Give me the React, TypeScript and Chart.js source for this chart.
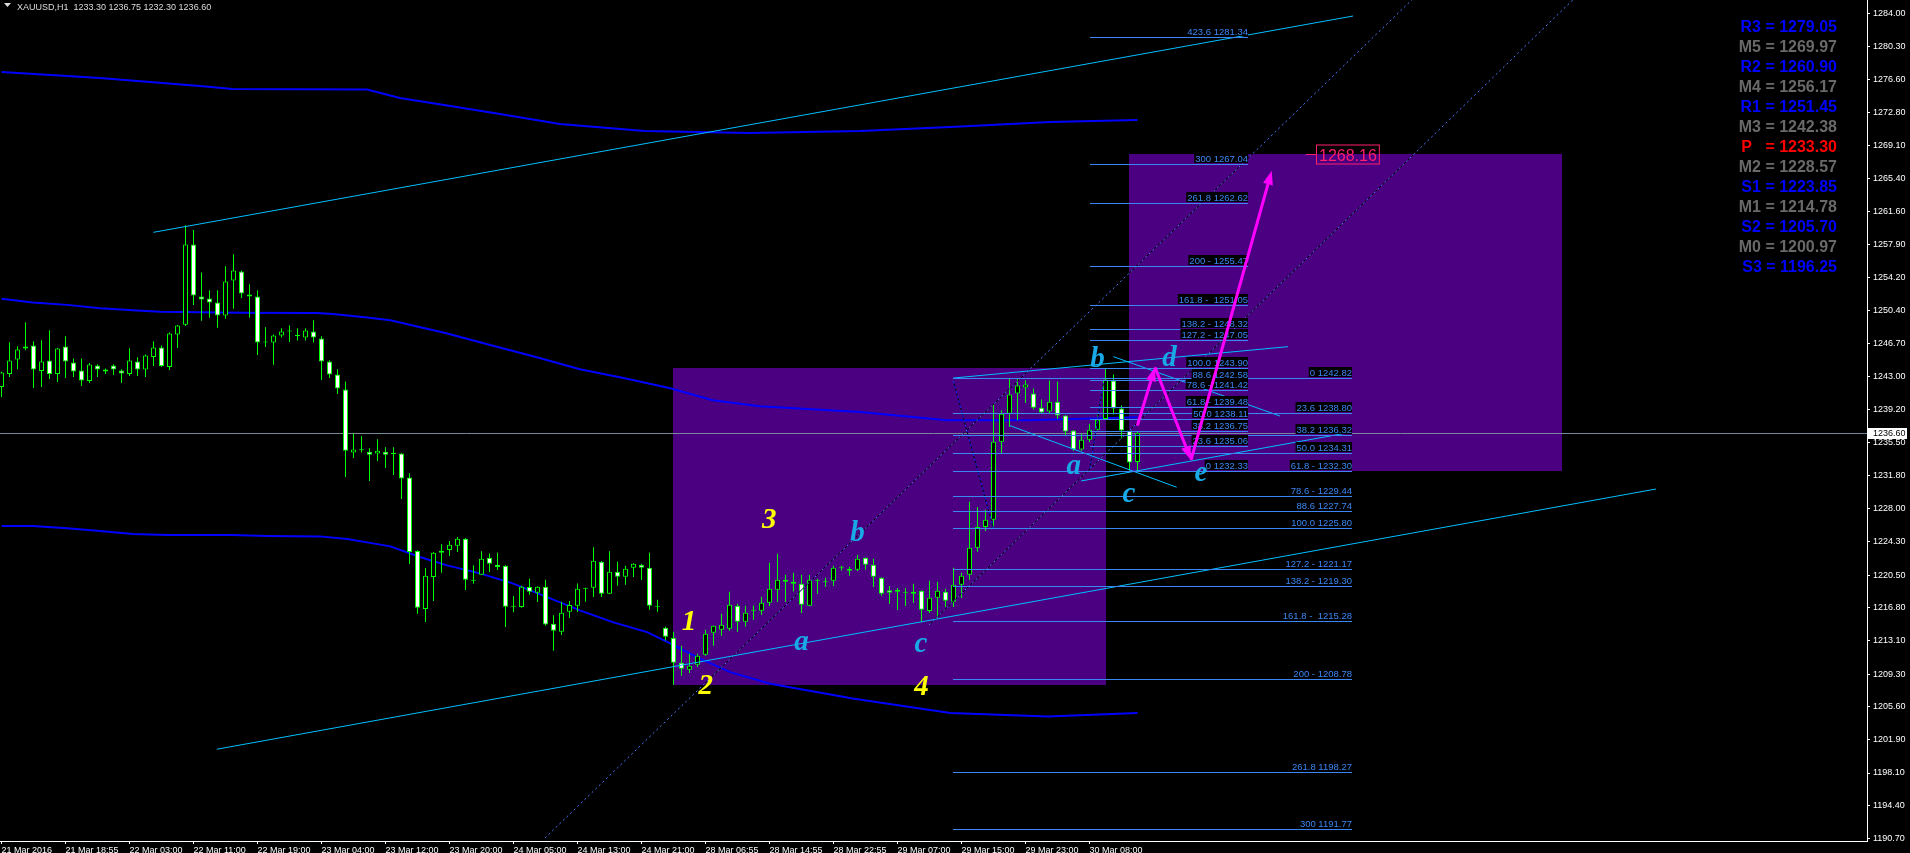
import React, { useEffect, useRef } from 'react';
import { Chart, registerables } from 'chart.js';

Chart.register(...registerables);

// ---------- candles (H1 XAUUSD) ----------
const candleOpen = [1241.79,1243.27,1244.89,1246.36,1246.48,1243.61,1244.78,1243.27,1246.36,1244.55,1243.64,1242.47,1244.21,1243.76,1244.21,1243.64,1243.27,1244.66,1243.76,1245.19,1246.25,1244.06,1247.72,1248.82,1257.91,1252.03,1251.80,1251.35,1249.87,1253.84,1254.86,1252.25,1252.03,1246.82,1246.82,1247.61,1248.06,1247.57,1247.38,1248.06,1247.27,1244.66,1243.19,1241.49,1234.36,1234.62,1234.47,1234.25,1234.47,1234.21,1234.25,1231.53,1223.23,1216.66,1220.28,1223.04,1223.34,1223.83,1224.62,1219.87,1220.55,1222.47,1221.68,1221.57,1216.92,1216.88,1219.15,1218.51,1219.19,1214.99,1214.09,1216.36,1217.04,1218.96,1219.07,1222.02,1218.39,1220.89,1220.32,1221.34,1221.68,1221.34,1216.92,1214.54,1213.41,1210.58,1209.79,1210.35,1211.49,1213.98,1214.32,1214.43,1217.04,1215.22,1216.47,1216.47,1217.37,1218.84,1219.98,1219.75,1219.52,1217.03,1219.86,1219.75,1219.86,1221.33,1221.22,1221.11,1222.47,1221.67,1220.20,1218.77,1218.84,1218.50,1218.62,1218.73,1216.43,1217.94,1218.62,1217.48,1219.41,1220.54,1223.60,1225.94,1226.77,1235.60,1238.77,1241.04,1241.72,1241.04,1239.45,1239.00,1240.13,1238.55,1236.85,1234.70,1235.83,1236.96,1238.17,1242.51,1239.34,1236.85,1233.30];
const candleHigh = [1243.50,1246.85,1246.40,1249.12,1246.97,1247.08,1248.21,1246.20,1247.53,1245.00,1245.00,1244.51,1244.36,1243.87,1244.36,1243.80,1246.17,1245.15,1245.46,1246.97,1246.48,1247.95,1248.80,1260.10,1259.54,1254.74,1252.74,1252.74,1255.46,1256.82,1254.97,1253.42,1252.74,1248.55,1247.72,1248.44,1248.78,1248.44,1248.44,1249.34,1247.53,1244.82,1243.80,1242.40,1236.55,1236.21,1234.85,1235.87,1234.96,1234.97,1234.30,1232.02,1223.30,1221.30,1223.10,1223.98,1224.36,1224.81,1224.70,1221.60,1223.19,1222.93,1223.04,1221.60,1218.13,1219.30,1220.09,1219.25,1219.98,1215.94,1217.49,1217.56,1219.56,1219.07,1223.64,1222.10,1223.19,1222.02,1221.57,1221.85,1221.79,1223.04,1217.72,1214.66,1214.09,1212.51,1211.60,1211.60,1214.32,1214.80,1216.13,1218.62,1217.26,1217.04,1217.07,1218.05,1221.90,1222.92,1220.54,1220.77,1220.54,1220.54,1220.09,1220.20,1221.56,1221.56,1221.45,1222.81,1222.50,1222.35,1220.25,1219.26,1219.03,1219.03,1219.52,1218.78,1219.86,1219.75,1218.96,1221.33,1220.77,1228.81,1228.20,1227.90,1239.83,1239.15,1242.74,1242.74,1242.55,1241.61,1240.36,1242.51,1242.40,1238.60,1236.90,1236.51,1237.64,1238.59,1243.91,1243.19,1239.68,1236.90,1236.75];
const candleLow = [1240.66,1242.93,1243.80,1245.95,1241.68,1241.79,1242.70,1242.36,1242.81,1242.93,1241.91,1242.25,1242.93,1243.27,1243.15,1242.25,1243.04,1243.04,1242.93,1244.17,1244.06,1243.72,1246.21,1248.70,1251.08,1249.27,1249.61,1248.48,1249.50,1250.63,1251.87,1249.61,1245.42,1246.32,1244.29,1247.38,1246.89,1247.04,1247.04,1246.82,1242.59,1242.81,1241.00,1231.60,1233.75,1234.36,1231.15,1233.41,1232.62,1231.83,1229.12,1221.75,1216.13,1215.19,1217.56,1220.77,1222.66,1223.11,1218.81,1219.53,1220.50,1220.85,1221.08,1214.62,1216.28,1216.81,1218.28,1217.45,1214.77,1211.94,1213.71,1215.64,1216.32,1217.49,1218.02,1218.02,1218.35,1219.30,1219.41,1220.28,1219.94,1216.58,1216.36,1213.11,1208.09,1209.11,1209.41,1210.09,1211.37,1212.51,1213.64,1214.20,1214.09,1214.66,1215.45,1216.02,1216.99,1217.45,1217.45,1218.65,1216.20,1216.99,1218.35,1219.15,1219.26,1221.03,1220.43,1220.96,1221.11,1219.15,1218.16,1217.26,1216.54,1216.99,1217.33,1215.18,1216.20,1215.67,1216.88,1216.88,1217.90,1219.98,1223.15,1225.49,1225.75,1234.24,1237.27,1238.02,1239.98,1239.23,1238.77,1238.77,1238.17,1236.32,1234.58,1234.58,1235.57,1236.90,1238.09,1238.66,1235.94,1232.33,1232.30];
const candleClose = [1243.42,1244.78,1246.02,1246.14,1243.76,1244.66,1243.27,1246.14,1244.66,1243.53,1242.51,1244.32,1243.76,1243.53,1243.76,1243.30,1244.78,1243.76,1245.34,1246.25,1244.17,1247.83,1248.74,1257.91,1252.14,1251.69,1251.35,1249.87,1253.72,1254.97,1252.36,1252.03,1246.82,1246.82,1247.61,1248.06,1248.06,1247.57,1248.17,1247.38,1244.66,1243.19,1241.61,1234.58,1234.70,1234.62,1234.13,1234.58,1234.13,1234.21,1231.42,1223.11,1216.81,1220.43,1223.04,1223.26,1223.94,1224.62,1219.98,1219.87,1222.36,1221.79,1221.42,1216.92,1216.92,1219.19,1218.62,1219.19,1214.90,1214.20,1216.24,1217.11,1218.96,1218.96,1222.13,1218.39,1220.89,1220.32,1221.23,1221.79,1221.34,1217.04,1216.92,1213.53,1210.58,1209.90,1210.24,1211.37,1213.87,1214.77,1214.88,1217.15,1215.22,1216.24,1216.47,1217.38,1218.96,1219.98,1219.75,1219.52,1217.14,1219.98,1219.86,1219.75,1221.33,1221.33,1220.99,1222.35,1221.67,1220.32,1218.39,1218.50,1218.62,1218.50,1218.39,1216.58,1217.94,1218.73,1217.60,1219.41,1220.43,1223.60,1225.94,1226.77,1235.60,1238.77,1240.93,1241.95,1242.06,1239.45,1238.89,1240.13,1238.55,1236.74,1234.70,1235.83,1236.96,1238.09,1242.63,1239.34,1236.85,1233.23,1236.60];

// ---------- axes ----------
const xTickIndex = [0, 8, 16, 24, 32, 40, 48, 56, 64, 72, 80, 88, 96, 104, 112, 120, 128, 136];
const xTickLabels = ['21 Mar 2016', '21 Mar 18:55', '22 Mar 03:00', '22 Mar 11:00', '22 Mar 19:00', '23 Mar 04:00', '23 Mar 12:00', '23 Mar 20:00', '24 Mar 05:00', '24 Mar 13:00', '24 Mar 21:00', '28 Mar 06:55', '28 Mar 14:55', '28 Mar 22:55', '29 Mar 07:00', '29 Mar 15:00', '29 Mar 23:00', '30 Mar 08:00'];
const yTickValues = [1284.00, 1280.30, 1276.60, 1272.80, 1269.10, 1265.40, 1261.60, 1257.90, 1254.20, 1250.40, 1246.70, 1243.00, 1239.20, 1235.50, 1231.80, 1228.00, 1224.30, 1220.50, 1216.80, 1213.10, 1209.30, 1205.60, 1201.90, 1198.10, 1194.40, 1190.70];
const X_MIN = -0.1875;
const X_MAX = 233.1875;
const Y_MIN = 1190.405;
const Y_MAX = 1285.584;

// ---------- envelope bands ----------
const bandUpperIdx = [0, 12.3, 24.8, 28.9, 45.7, 49.8, 56.1, 62.3, 69.8, 80.4, 93.6, 107.3, 118.6, 131.1, 142];
const bandUpperVal = [1277.43, 1276.75, 1275.85, 1275.51, 1275.45, 1274.49, 1273.58, 1272.67, 1271.54, 1270.75, 1270.52, 1270.75, 1271.20, 1271.77, 1272.00];
const bandMidIdx = [0, 3.9, 8.2, 12.3, 16.4, 19.8, 29.8, 39.4, 41.4, 45.7, 48.6, 55.6, 61.2, 66.8, 72.3, 77.9, 83.6, 88.9, 94.8, 107.3, 118.2, 128.2, 142];
const bandMidVal = [1251.76, 1251.35, 1251.08, 1250.70, 1250.48, 1250.29, 1250.20, 1250.17, 1250.06, 1249.65, 1249.35, 1247.87, 1246.52, 1245.19, 1243.80, 1242.78, 1241.64, 1240.29, 1239.61, 1238.96, 1238.02, 1238.02, 1238.36];
const bandLowIdx = [0, 3.9, 8.2, 12.3, 16.4, 20.7, 28.9, 33.2, 39.8, 43.2, 45.7, 48.6, 52.3, 55.7, 59.8, 63.9, 68.2, 72.3, 76.4, 80.7, 83.6, 86.9, 91.1, 96.1, 106.4, 118.6, 130.8, 142];
const bandLowVal = [1226.05, 1226.05, 1225.79, 1225.48, 1225.14, 1225.03, 1225.03, 1224.92, 1224.88, 1224.58, 1224.20, 1223.75, 1222.54, 1221.60, 1220.69, 1219.56, 1218.01, 1216.50, 1215.18, 1214.05, 1212.77, 1211.21, 1209.52, 1208.20, 1206.54, 1204.88, 1204.50, 1204.88];

// ---------- trend lines [idx0, price0, idx1, price1] ----------
const cyanLines = [
  [18.98, 1259.29, 168.94, 1283.77],
  [26.91, 1200.79, 206.81, 1230.24],
  [118.98, 1242.80, 160.81, 1246.35],
  [134.94, 1231.15, 168.81, 1236.69],
  [138.98, 1245.22, 159.81, 1238.50],
  [126.06, 1237.41, 146.9, 1230.44],
];
const dottedLines = [
  [67.94, 1190.75, 177.31, 1286.49],
  [115.94, 1214.85, 197.31, 1286.38],
];
const zigzagLines = [
  [118.98, 1242.47, 123.98, 1225.83],
  [136.06, 1232.59, 137.73, 1242.24],
];

// ---------- rectangles [idx0, idx1, priceLow, priceHigh] ----------
const rectangles = [
  [84, 138, 1208.09, 1243.91],
  [141, 195, 1232.30, 1268.16],
];

// ---------- fibonacci ----------
const fibALabels = ['423.6 1281.34', '300 1267.04', '261.8 1262.62', '200 - 1255.47', '161.8 -  1251.05', '138.2 - 1248.32', '127.2 - 1247.05', '100.0 1243.90', '88.6 1242.58', '78.6 - 1241.42', '61.8 - 1239.48', '50.0 1238.11', '38.2 1236.75', '23.6 1235.06', '0 1232.33'];
const fibAPrices = [1281.34, 1267.04, 1262.62, 1255.47, 1251.05, 1248.32, 1247.05, 1243.90, 1242.58, 1241.42, 1239.48, 1238.11, 1236.75, 1235.06, 1232.33];
const fibASpan = [136, 155.85];
const fibBLabels = ['0 1242.82', '23.6 1238.80', '38.2 1236.32', '50.0 1234.31', '61.8 - 1232.30', '78.6 - 1229.44', '88.6 1227.74', '100.0 1225.80', '127.2 - 1221.17', '138.2 - 1219.30', '161.8 -  1215.28', '200 - 1208.78', '261.8 1198.27', '300 1191.77'];
const fibBPrices = [1242.82, 1238.80, 1236.32, 1234.31, 1232.30, 1229.44, 1227.74, 1225.80, 1221.17, 1219.30, 1215.28, 1208.78, 1198.27, 1191.77];
const fibBSpan = [118.98, 168.78];

// ---------- wave labels ----------
const waveNumText = ['1', '2', '3', '4'];
const waveNumIdx = [85.94, 88.04, 95.98, 115.0];
const waveNumPrice = [1214.28, 1207.04, 1225.79, 1206.93];
const waveLetText = ['a', 'b', 'c', 'a', 'b', 'c', 'd', 'e'];
const waveLetIdx = [100.0, 107.0, 114.94, 134.04, 137.0, 140.94, 146.0, 149.94];
const waveLetPrice = [1211.97, 1224.36, 1211.76, 1231.91, 1244.02, 1228.81, 1244.20, 1231.18];

// ---------- projected path (magenta arrows) ----------
const pathIdx = [141.98, 144.19, 148.69, 158.78];
const pathPrice = [1237.41, 1244.02, 1233.52, 1266.27];

// ---------- target / bid ----------
const targetPrice = 1268.16;
const targetIdx = [163.06, 164.31];
const bidPrice = 1236.60;

// ---------- pivots ----------
const pivotNames = ['R3', 'M5', 'R2', 'M4', 'R1', 'M3', 'P', 'M2', 'S1', 'M1', 'S2', 'M0', 'S3'];
const pivotValues = [1279.05, 1269.97, 1260.90, 1256.17, 1251.45, 1242.38, 1233.30, 1228.57, 1223.85, 1214.78, 1205.70, 1200.97, 1196.25];

const titleText = 'XAUUSD,H1  1233.30 1236.75 1232.30 1236.60';

const AXIS_FONT = '"Liberation Sans", Arial, sans-serif';
const FIB_COLOR = '#3b86f2';

function seg(a: number[]) {
  return [{ x: a[0], y: a[1] }, { x: a[2], y: a[3] }];
}

function arrowTo(ctx: CanvasRenderingContext2D, x0: number, y0: number, x1: number, y1: number) {
  const ang = Math.atan2(y1 - y0, x1 - x0);
  const L = 14, hw = 5;
  const bx = x1 - L * Math.cos(ang), by = y1 - L * Math.sin(ang);
  ctx.beginPath();
  ctx.moveTo(x0, y0);
  ctx.lineTo(bx, by);
  ctx.stroke();
  ctx.beginPath();
  ctx.moveTo(x1, y1);
  ctx.lineTo(bx + hw * Math.sin(ang), by - hw * Math.cos(ang));
  ctx.lineTo(bx - hw * Math.sin(ang), by + hw * Math.cos(ang));
  ctx.closePath();
  ctx.fill();
}

const overlayPlugin = {
  id: 'mtOverlay',
  beforeDraw(chart: any) {
    const { ctx, width, height } = chart;
    ctx.save();
    ctx.fillStyle = '#000';
    ctx.fillRect(0, 0, width, height);
    ctx.restore();
  },
  beforeDatasetsDraw(chart: any) {
    const { ctx, chartArea: a } = chart;
    const xs = chart.scales.x, ys = chart.scales.y;
    ctx.save();
    ctx.beginPath();
    ctx.rect(a.left, a.top, a.right - a.left, a.bottom - a.top);
    ctx.clip();
    ctx.fillStyle = '#4b0082';
    rectangles.forEach((r) => {
      const x0 = Math.floor(xs.getPixelForValue(r[0]));
      const x1 = Math.floor(xs.getPixelForValue(r[1])) + 1;
      const y0 = Math.round(ys.getPixelForValue(r[3]));
      const y1 = Math.round(ys.getPixelForValue(r[2]));
      ctx.fillRect(x0, y0, x1 - x0, y1 - y0);
    });
    const by = Math.round(ys.getPixelForValue(bidPrice)) + 0.5;
    ctx.strokeStyle = '#778899';
    ctx.lineWidth = 1;
    ctx.beginPath();
    ctx.moveTo(a.left, by);
    ctx.lineTo(a.right, by);
    ctx.stroke();
    ctx.restore();
  },
  afterDatasetsDraw(chart: any) {
    const { ctx, chartArea: a } = chart;
    const xs = chart.scales.x, ys = chart.scales.y;
    ctx.save();
    ctx.beginPath();
    ctx.rect(a.left, a.top, a.right - a.left, a.bottom - a.top);
    ctx.clip();

    const fibSets = [
      { labels: fibBLabels, prices: fibBPrices, span: fibBSpan },
      { labels: fibALabels, prices: fibAPrices, span: fibASpan },
    ];
    ctx.lineWidth = 1;
    ctx.strokeStyle = FIB_COLOR;
    fibSets.forEach((s) => {
      const x0 = Math.round(xs.getPixelForValue(s.span[0]));
      const x1 = Math.round(xs.getPixelForValue(s.span[1]));
      s.prices.forEach((p) => {
        const y = Math.round(ys.getPixelForValue(p)) + 0.5;
        ctx.beginPath();
        ctx.moveTo(x0, y);
        ctx.lineTo(x1, y);
        ctx.stroke();
      });
    });
    ctx.font = '9.5px ' + AXIS_FONT;
    ctx.textAlign = 'right';
    ctx.textBaseline = 'alphabetic';
    fibSets.forEach((s) => {
      const x1 = Math.round(xs.getPixelForValue(s.span[1]));
      s.prices.forEach((p, k) => {
        const y = Math.round(ys.getPixelForValue(p));
        const tw = ctx.measureText(s.labels[k]).width;
        ctx.fillStyle = '#000';
        ctx.fillRect(x1 - tw - 1, y - 11, tw + 1, 10);
        ctx.fillStyle = FIB_COLOR;
        ctx.fillText(s.labels[k], x1, y - 2);
      });
    });

    ctx.textAlign = 'center';
    ctx.font = 'italic bold 29px "Liberation Serif", "DejaVu Serif", serif';
    ctx.fillStyle = '#ffff00';
    waveNumText.forEach((t, k) => {
      ctx.fillText(t, xs.getPixelForValue(waveNumIdx[k]), ys.getPixelForValue(waveNumPrice[k]));
    });
    ctx.fillStyle = '#19a9e6';
    waveLetText.forEach((t, k) => {
      ctx.fillText(t, xs.getPixelForValue(waveLetIdx[k]), ys.getPixelForValue(waveLetPrice[k]));
    });

    ctx.strokeStyle = '#ff00ff';
    ctx.fillStyle = '#ff00ff';
    ctx.lineWidth = 3;
    ctx.lineCap = 'butt';
    for (let k = 0; k < pathIdx.length - 1; k++) {
      arrowTo(ctx,
        xs.getPixelForValue(pathIdx[k]), ys.getPixelForValue(pathPrice[k]),
        xs.getPixelForValue(pathIdx[k + 1]), ys.getPixelForValue(pathPrice[k + 1]));
    }

    const ty = Math.round(ys.getPixelForValue(targetPrice)) + 0.5;
    const tx0 = Math.round(xs.getPixelForValue(targetIdx[0]));
    const tx1 = Math.round(xs.getPixelForValue(targetIdx[1]));
    ctx.lineWidth = 1;
    ctx.strokeStyle = '#ff1e6e';
    ctx.beginPath();
    ctx.moveTo(tx0, ty);
    ctx.lineTo(tx1, ty);
    ctx.stroke();
    ctx.font = '16px ' + AXIS_FONT;
    ctx.textAlign = 'left';
    const tw = ctx.measureText(targetPrice.toFixed(2)).width;
    ctx.strokeRect(tx1 + 0.5, ty - 9.5, tw + 5, 19);
    ctx.fillStyle = '#ff1e6e';
    ctx.fillText(targetPrice.toFixed(2), tx1 + 3, ty + 6.5);
    ctx.restore();
  },
  afterDraw(chart: any) {
    const { ctx, chartArea: a } = chart;
    const ys = chart.scales.y;
    ctx.save();
    ctx.fillStyle = '#dcdcdc';
    ctx.beginPath();
    ctx.moveTo(4, 3);
    ctx.lineTo(11, 3);
    ctx.lineTo(7.5, 7);
    ctx.closePath();
    ctx.fill();
    ctx.font = '9px ' + AXIS_FONT;
    ctx.textAlign = 'left';
    ctx.textBaseline = 'alphabetic';
    ctx.fillText(titleText, 17, 9.5);

    ctx.font = 'bold 16px ' + AXIS_FONT;
    ctx.textAlign = 'right';
    pivotNames.forEach((n, k) => {
      const c = n[0] === 'P' ? '#ff0000' : n[0] === 'M' ? '#696969' : '#0000ff';
      const txt = n === 'P' ? 'P   = ' + pivotValues[k].toFixed(2) : n + ' = ' + pivotValues[k].toFixed(2);
      ctx.fillStyle = c;
      ctx.fillText(txt, 1837, 31.7 + 20 * k);
    });

    const by = Math.round(ys.getPixelForValue(bidPrice));
    ctx.fillStyle = '#ffffff';
    ctx.fillRect(a.right + 1, by - 5, 39, 11);
    ctx.fillStyle = '#000000';
    ctx.font = '9px ' + AXIS_FONT;
    ctx.textAlign = 'left';
    ctx.textBaseline = 'middle';
    ctx.fillText(bidPrice.toFixed(2), a.right + 6, by + 0.5);
    ctx.restore();
  },
};

export default function App() {
  const canvasRef = useRef<HTMLCanvasElement | null>(null);

  useEffect(() => {
    document.body.style.margin = '0';
    document.body.style.background = '#000';
    const canvas = canvasRef.current;
    if (!canvas) return;

    const idx = candleOpen.map((_, i) => i);
    const wickData = idx.map((i) => ({ x: i, y: [candleLow[i], candleHigh[i]] }));
    const bodyData = idx.map((i) => ({ x: i, y: [Math.min(candleOpen[i], candleClose[i]), Math.max(candleOpen[i], candleClose[i])] }));
    const bodyFill = idx.map((i) => (candleClose[i] >= candleOpen[i] ? '#000000' : '#ffffff'));

    const lineDs = (data: any[], color: string, width: number, order: number, dash: number[] = []) => ({
      type: 'line',
      data,
      borderColor: color,
      borderWidth: width,
      borderDash: dash,
      pointRadius: 0,
      fill: false,
      tension: 0,
      order,
    });

    const datasets: any[] = [];
    cyanLines.forEach((l) => datasets.push(lineDs(seg(l), '#00bfff', 1, 5)));
    dottedLines.forEach((l) => {
      datasets.push(lineDs(seg(l), '#5078ff', 1, 6, [2, 3]));
      datasets.push(lineDs(seg(l), '#000000', 1, 7));
    });
    zigzagLines.forEach((l) => {
      datasets.push(lineDs(seg(l), '#2020ff', 1, 6, [3, 2]));
      datasets.push(lineDs(seg(l), '#000000', 1, 7));
    });
    datasets.push({
      type: 'bar', data: bodyData, backgroundColor: bodyFill, borderColor: '#00ff00', borderWidth: 1,
      borderSkipped: false, grouped: false, maxBarThickness: 5, minBarLength: 1, inflateAmount: 0, order: 20,
    });
    datasets.push({
      type: 'bar', data: wickData, backgroundColor: '#00ff00', borderWidth: 0,
      grouped: false, maxBarThickness: 1, minBarLength: 1, inflateAmount: 0, order: 21,
    });
    datasets.push(lineDs(bandUpperIdx.map((x, k) => ({ x, y: bandUpperVal[k] })), '#0000ff', 2, 30));
    datasets.push(lineDs(bandMidIdx.map((x, k) => ({ x, y: bandMidVal[k] })), '#0000ff', 2, 30));
    datasets.push(lineDs(bandLowIdx.map((x, k) => ({ x, y: bandLowVal[k] })), '#0000ff', 2, 30));

    const chart = new Chart(canvas, {
      type: 'bar',
      data: { datasets },
      options: {
        responsive: false,
        animation: false,
        events: [],
        layout: { padding: 0 },
        plugins: { legend: { display: false }, tooltip: { enabled: false } },
        scales: {
          x: {
            type: 'linear',
            position: 'bottom',
            min: X_MIN,
            max: X_MAX,
            offset: false,
            grid: { display: true, drawOnChartArea: false, drawTicks: true, tickLength: 3, color: '#ffffff', lineWidth: 1, offset: false },
            border: { display: true, color: '#ffffff', width: 1 },
            ticks: {
              autoSkip: false, maxRotation: 0, minRotation: 0, align: 'start', padding: 1, color: '#ffffff',
              font: { family: AXIS_FONT, size: 9 },
              callback: (v: any) => {
                const k = xTickIndex.indexOf(Number(v));
                return k >= 0 ? xTickLabels[k] : '';
              },
            },
            afterBuildTicks: (s: any) => { s.ticks = xTickIndex.map((v) => ({ value: v })); },
            afterFit: (s: any) => { s.height = 12; s.paddingLeft = 0; s.paddingRight = 0; },
          },
          y: {
            type: 'linear',
            position: 'right',
            min: Y_MIN,
            max: Y_MAX,
            grid: { display: true, drawOnChartArea: false, drawTicks: true, tickLength: 3, color: '#ffffff', lineWidth: 1 },
            border: { display: true, color: '#ffffff', width: 1 },
            ticks: {
              autoSkip: false, padding: 3, color: '#ffffff',
              font: { family: AXIS_FONT, size: 9 },
              callback: (v: any) => Number(v).toFixed(2),
            },
            afterBuildTicks: (s: any) => { s.ticks = yTickValues.map((v) => ({ value: v })); },
            afterFit: (s: any) => { s.width = 43; s.paddingTop = 0; s.paddingBottom = 0; },
          },
        },
      } as any,
      plugins: [overlayPlugin as any],
    } as any);

    return () => chart.destroy();
  }, []);

  return (
    <canvas
      ref={canvasRef}
      width={1910}
      height={853}
      style={{ display: 'block', width: '1910px', height: '853px' }}
    />
  );
}
